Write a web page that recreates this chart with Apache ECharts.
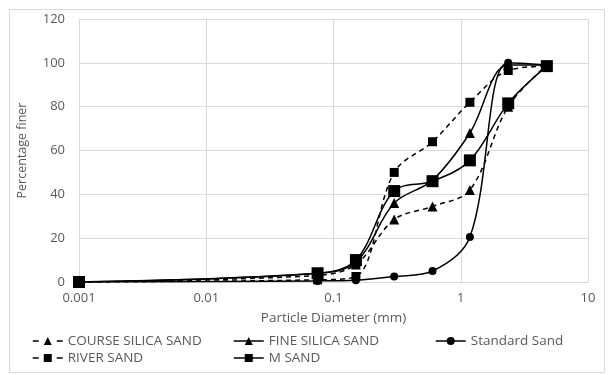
<!DOCTYPE html>
<html>
<head>
<meta charset="utf-8">
<script src="https://cdn.jsdelivr.net/npm/echarts@6/dist/echarts.min.js"></script>
<style>
html,body{margin:0;padding:0;background:#fff;}
#chart{width:610px;height:375px;}
</style>
</head>
<body>
<div id="chart"></div>
<script>
// Sieve sizes (mm)
var sizes = [0.001, 0.075, 0.15, 0.3, 0.6, 1.18, 2.36, 4.75];
var courseSilica = [0, 3, 8, 28.5, 34.5, 42, 80, 99];
var fineSilica = [0, 4, 9, 36, 46.5, 68, 99, 99];
var standardSand = [0, 0.5, 0.8, 2.5, 5, 20.5, 100, 99];
var riverSand = [0, 1, 2.5, 50, 64, 82, 96.5, 98.5];
var mSand = [0, 4, 10, 41.5, 46, 55.5, 81.5, 98.5];
var xTicks = [0.001, 0.01, 0.1, 1, 10];
var seriesNames = ['COURSE SILICA SAND', 'FINE SILICA SAND', 'Standard Sand', 'RIVER SAND', 'M SAND'];
var seriesDashed = [true, false, false, true, false];

function pairs(vals){ return sizes.map(function(s,i){ return [s, vals[i]]; }); }

var font = '"Open Sans", "Liberation Sans", sans-serif';
var grey = '#595959';

function mk(name, vals, symbol, size, dashed){
  return {
    name: name, type: 'line', data: pairs(vals),
    smooth: 0.35, symbol: symbol, symbolSize: size,
    itemStyle: {color: '#000'},
    lineStyle: {color: '#000', width: 1.5, type: dashed ? [5,4] : 'solid'},
    emphasis: {disabled: true}
  };
}

var legendPos = [[32,334],[233,334],[435,334],[32,351],[233,351]];
var legends = seriesNames.map(function(n,i){
  return {
    data: [n], left: legendPos[i][0], top: legendPos[i][1], padding: 0,
    itemWidth: 30, itemHeight: 10, itemGap: 4,
    lineStyle: {type: seriesDashed[i] ? [6,18] : 'solid', width: 1.5},
    textStyle: {color: grey, fontSize: 13.5, fontFamily: font},
    selectedMode: false
  };
});

var chart = echarts.init(document.getElementById('chart'), null, {renderer: 'canvas'});
chart.setOption({
  animation: false,
  backgroundColor: '#fff',
  graphic: [{type:'rect', shape:{x:9.5,y:9.5,width:595,height:363}, style:{fill:'none', stroke:'#d9d9d9', lineWidth:1}, silent:true, z:-1}],
  legend: legends,
  grid: {left: 79, right: 22, top: 19, bottom: 93},
  xAxis: {
    type: 'log', logBase: 10, min: 0.001, max: 10,
    name: 'Particle Diameter (mm)', nameLocation: 'middle', nameGap: 29,
    nameTextStyle: {color: grey, fontSize: 13.5, fontFamily: font},
    axisLine: {show: true, lineStyle: {color: '#d9d9d9'}},
    axisTick: {show: false},
    axisLabel: {color: grey, fontSize: 13, fontFamily: font, margin: 10,
      formatter: function(v){ var t = xTicks.find(function(k){return Math.abs(k-v)/k < 1e-6;}); return t !== undefined ? String(t) : ''; }},
    splitLine: {show: true, lineStyle: {color: '#d9d9d9'}},
    minorTick: {show: false}
  },
  yAxis: {
    type: 'value', min: 0, max: 120, interval: 20,
    name: 'Percentage finer', nameLocation: 'middle', nameGap: 50,
    nameTextStyle: {color: grey, fontSize: 12.5, fontFamily: font},
    axisLine: {show: false}, axisTick: {show: false},
    axisLabel: {color: grey, fontSize: 13, fontFamily: font, margin: 14},
    splitLine: {show: true, lineStyle: {color: '#d9d9d9'}}
  },
  series: [
    mk(seriesNames[0], courseSilica, 'triangle', 10, true),
    mk(seriesNames[1], fineSilica, 'triangle', 10, false),
    mk(seriesNames[2], standardSand, 'circle', 8, false),
    mk(seriesNames[3], riverSand, 'rect', 9, true),
    mk(seriesNames[4], mSand, 'rect', 12, false)
  ]
});
</script>
</body>
</html>
